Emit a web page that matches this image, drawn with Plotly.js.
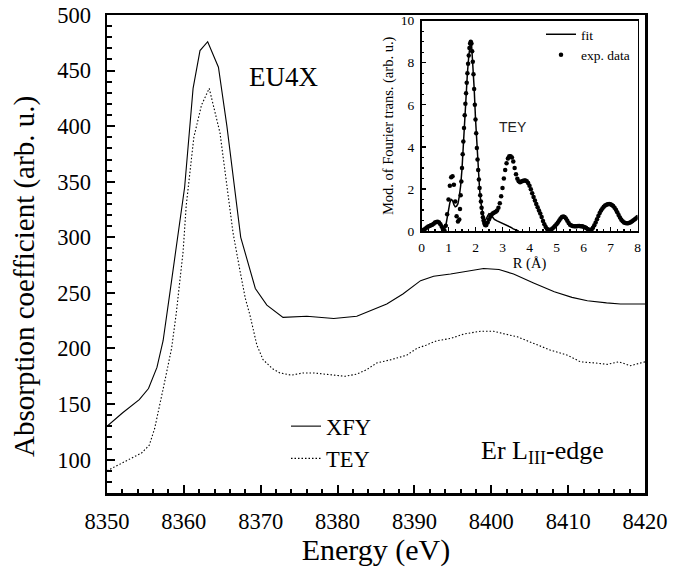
<!DOCTYPE html>
<html>
<head>
<meta charset="utf-8">
<script src="https://cdn.plot.ly/plotly-3.0.1.min.js"></script>
<style>html,body{margin:0;padding:0;background:#fff;}#chart{width:686px;height:567px;}</style>
</head>
<body>
<div id="chart"></div>
<script>
// ---- Main panel: Er L_III-edge XANES ----
const xfyEnergy = [8350, 8352, 8354.2, 8355.4, 8356.5, 8357.3, 8358.2, 8359, 8360.1, 8361.2, 8362.1, 8363.1, 8364.5, 8365.6, 8366.5, 8367.4, 8369.3, 8370.8, 8372.9, 8376, 8379.5, 8382.5, 8386.4, 8388.5, 8390.8, 8392.5, 8394.7, 8397, 8399, 8401, 8402.9, 8405.5, 8408.2, 8410.5, 8412.5, 8415, 8416.8, 8420];
const xfyValue  = [130, 142, 154, 164, 183, 207, 251, 290, 345, 434, 468, 476, 453, 400, 350, 300, 254, 239, 228, 229, 227, 229, 240, 249, 261, 265, 267, 270, 272, 271, 267, 259, 251, 246, 243, 241, 240, 240];

const teyEnergy = [8350, 8352, 8354.5, 8355.5, 8356.2, 8357.5, 8358.4, 8359, 8359.9, 8360.3, 8361.3, 8362.3, 8363.3, 8364.7, 8366.4, 8367.3, 8368, 8368.6, 8369.5, 8370.3, 8371.5, 8372.5, 8374, 8375.5, 8377, 8378.2, 8379.5, 8381, 8382.5, 8383.8, 8385.1, 8387, 8389, 8390.3, 8391.5, 8392.9, 8394.7, 8396.4, 8398.6, 8400.3, 8401.8, 8403.4, 8405, 8406, 8407.7, 8409.9, 8411.6, 8413.5, 8415.1, 8416.6, 8418.1, 8420];
const teyValue  = [90, 97, 106, 113, 128, 170, 200, 231, 287, 328, 390, 419, 434, 394, 304, 270, 245, 230, 203, 190, 182, 178, 176, 178, 178, 177, 176, 175, 177, 181, 187, 190, 194, 200, 203, 207, 209, 213, 215.5, 215.5, 213, 210.5, 206, 203, 198.5, 194, 188, 187, 185.7, 188, 184.5, 188];

// ---- Inset: modulus of Fourier transform (TEY) ----
const expR = [0.00,0.05,0.10,0.15,0.20,0.25,0.30,0.35,0.40,0.45,0.50,0.55,0.60,0.65,0.70,0.75,0.80,0.85,0.90,0.95,1.00,1.05,1.10,1.15,1.20,1.25,1.30,1.35,
  1.400,1.425,1.450,1.475,1.500,1.525,1.550,1.575,1.600,1.625,1.650,1.675,1.700,1.725,1.750,1.775,1.800,1.825,1.850,1.875,1.900,1.925,1.950,1.975,
  2.000,2.025,2.050,2.075,2.100,2.125,2.150,2.175,2.200,2.225,2.250,2.275,2.300,2.325,2.350,2.375,2.400,
  2.45,2.50,2.55,2.60,2.65,2.70,2.75,2.80,2.85,2.90,2.95,3.00,3.05,3.10,3.15,3.20,3.25,3.30,3.35,3.40,3.45,3.50,3.55,3.60,3.65,3.70,3.75,3.80,3.85,3.90,3.95,
  4.00,4.05,4.10,4.15,4.20,4.25,4.30,4.35,4.40,4.45,4.50,4.55,4.60,4.65,4.70,4.75,4.80,4.85,4.90,4.95,
  5.00,5.05,5.10,5.15,5.20,5.25,5.30,5.35,5.40,5.45,5.50,5.55,5.60,5.65,5.70,5.75,5.80,5.85,5.90,5.95,
  6.00,6.05,6.10,6.15,6.20,6.25,6.30,6.35,6.40,6.45,6.50,6.55,6.60,6.65,6.70,6.75,6.80,6.85,6.90,6.95,
  7.00,7.05,7.10,7.15,7.20,7.25,7.30,7.35,7.40,7.45,7.50,7.55,7.60,7.65,7.70,7.75,7.80,7.85,7.90,7.95,8.00];
const expFT = [0.00,0.03,0.07,0.12,0.17,0.21,0.24,0.27,0.30,0.35,0.40,0.43,0.44,0.40,0.32,0.20,0.08,0.02,0.25,0.80,1.50,2.15,2.55,2.60,2.20,1.40,0.70,0.45,
  0.55,1.05,1.70,2.35,3.00,3.65,4.25,4.90,5.50,6.05,6.55,7.05,7.50,7.95,8.35,8.70,8.92,9.00,8.92,8.55,8.05,7.45,6.75,6.00,
  5.30,4.65,3.95,3.40,2.90,2.45,2.05,1.70,1.40,1.10,0.85,0.65,0.50,0.38,0.30,0.27,0.29,
  0.40,0.55,0.68,0.78,0.84,0.88,0.92,0.98,1.10,1.32,1.65,2.05,2.50,2.90,3.22,3.45,3.56,3.55,3.50,3.30,3.00,2.70,2.48,2.36,2.32,2.35,2.38,2.40,2.40,2.36,2.28,
  2.15,1.98,1.80,1.62,1.45,1.28,1.13,0.98,0.83,0.66,0.48,0.32,0.19,0.10,0.06,0.05,0.07,0.12,0.18,0.25,
  0.32,0.40,0.50,0.59,0.66,0.69,0.67,0.60,0.49,0.38,0.30,0.26,0.24,0.23,0.23,0.23,0.24,0.24,0.23,0.22,
  0.20,0.18,0.14,0.10,0.06,0.05,0.07,0.15,0.27,0.41,0.56,0.71,0.85,0.97,1.07,1.15,1.21,1.25,1.27,1.28,
  1.27,1.24,1.19,1.11,1.01,0.89,0.76,0.64,0.54,0.46,0.41,0.38,0.37,0.37,0.39,0.42,0.46,0.51,0.56,0.61,0.66];

const fitR  = [0.00,0.10,0.20,0.30,0.40,0.50,0.55,0.60,0.65,0.70,0.75,0.80,0.85,0.90,0.95,1.00,1.05,1.10,1.15,1.20,1.25,1.30,1.35,1.40,1.45,1.50,1.55,1.60,1.65,1.70,1.75,1.80,1.85,1.90,1.95,2.00,2.05,2.10,2.15,2.20,2.25,2.30,2.35,2.40,2.45,2.50,2.55,2.60,2.65,2.70,2.80,2.90,3.00,3.10,3.20,3.30,3.40,3.50,3.60];
const fitFT = [0.00,0.10,0.20,0.27,0.35,0.45,0.48,0.48,0.45,0.38,0.28,0.15,0.08,0.25,0.60,1.00,1.35,1.50,1.45,1.25,1.15,1.18,1.30,1.65,2.15,2.95,4.15,5.45,6.55,7.50,8.30,8.85,8.95,8.10,6.80,5.35,4.00,2.85,2.00,1.35,0.90,0.62,0.52,0.58,0.72,0.82,0.80,0.72,0.62,0.55,0.48,0.42,0.38,0.32,0.25,0.18,0.10,0.04,0.00];

const SERIF = 'Liberation Serif';
const SANS = 'Liberation Sans';

const traces = [
  {x: xfyEnergy, y: xfyValue, type: 'scatter', mode: 'lines', name: 'XFY',
   line: {color: '#000', width: 1.1}, xaxis: 'x', yaxis: 'y', legend: 'legend'},
  {x: teyEnergy, y: teyValue, type: 'scatter', mode: 'lines', name: 'TEY',
   line: {color: '#000', width: 1.1, dash: '1.5px,2px'}, xaxis: 'x', yaxis: 'y', legend: 'legend'},
  {x: fitR, y: fitFT, type: 'scatter', mode: 'lines', name: 'fit',
   line: {color: '#000', width: 1.5}, xaxis: 'x2', yaxis: 'y2', legend: 'legend2'},
  {x: expR, y: expFT, type: 'scatter', mode: 'markers', name: 'exp. data',
   marker: {color: '#000', size: 4.5}, xaxis: 'x2', yaxis: 'y2', legend: 'legend2'}
];

const L = 107, R = 41, T = 15, B = 74;
const W = 686, H = 567;
const pw = W - L - R, ph = H - T - B;
const px = v => (v - L) / pw;
const py = v => (H - B - v) / ph;

const layout = {
  width: W, height: H,
  margin: {l: L, r: R, t: T, b: B, pad: 0},
  paper_bgcolor: '#fff', plot_bgcolor: 'rgba(0,0,0,0)',
  font: {family: SERIF, color: '#000', size: 22},
  showlegend: true,
  xaxis: {
    domain: [0, 1], range: [8350, 8420], dtick: 10, tick0: 8350,
    showline: true, mirror: true, linewidth: 2.5, linecolor: '#000',
    ticks: 'inside', ticklen: 8, tickwidth: 2, tickcolor: '#000',
    minor: {dtick: 2, ticks: 'inside', ticklen: 4.5, tickwidth: 2, tickcolor: '#000'},
    showgrid: false, zeroline: false,
    tickfont: {family: SERIF, size: 22.5, color: '#000'},
    ticklabelstandoff: 6,
    title: {text: 'Energy (eV)', font: {family: SERIF, size: 30, color: '#000'}, standoff: 8}
  },
  yaxis: {
    domain: [0, 1], range: [70, 500], dtick: 50, tick0: 0,
    showline: true, mirror: true, linewidth: 2.5, linecolor: '#000',
    ticks: 'inside', ticklen: 8, tickwidth: 2, tickcolor: '#000',
    minor: {dtick: 10, ticks: 'inside', ticklen: 4.5, tickwidth: 2, tickcolor: '#000'},
    showgrid: false, zeroline: false,
    tickfont: {family: SERIF, size: 22.5, color: '#000'},
    ticklabelstandoff: 9
  },
  xaxis2: {
    anchor: 'y2', domain: [px(421.5), px(637.5)], range: [0, 8], dtick: 1, tick0: 0,
    showline: true, mirror: true, linewidth: 1.5, linecolor: '#000',
    ticks: 'inside', ticklen: 4, tickwidth: 1.3, tickcolor: '#000',
    minor: {dtick: 0.25, ticks: 'inside', ticklen: 2.5, tickwidth: 1.2, tickcolor: '#000'},
    showgrid: false, zeroline: false,
    tickfont: {family: SERIF, size: 13.5, color: '#000'},
    ticklabelstandoff: 3,
    title: {text: 'R (Å)', font: {family: SERIF, size: 14.5, color: '#000'}, standoff: 1}
  },
  yaxis2: {
    anchor: 'x2', domain: [py(231), py(20.7)], range: [0, 10], dtick: 2, tick0: 0,
    showline: true, mirror: true, linewidth: 1.5, linecolor: '#000',
    ticks: 'inside', ticklen: 4, tickwidth: 1.3, tickcolor: '#000',
    minor: {dtick: 0.5, ticks: 'inside', ticklen: 2.5, tickwidth: 1.2, tickcolor: '#000'},
    showgrid: false, zeroline: false,
    tickfont: {family: SERIF, size: 13.5, color: '#000'},
    ticklabelstandoff: 3,
    title: {text: 'Mod. of Fourier trans. (arb. u.)', font: {family: SERIF, size: 14.5, color: '#000'}, standoff: 3}
  },
  legend: {
    x: px(286), y: py(405), xanchor: 'left', yanchor: 'top',
    bgcolor: 'rgba(0,0,0,0)', borderwidth: 0,
    font: {family: SERIF, size: 22.5, color: '#000'}, tracegroupgap: 0
  },
  legend2: {
    x: px(541), y: py(19), xanchor: 'left', yanchor: 'top',
    bgcolor: 'rgba(0,0,0,0)', borderwidth: 0,
    font: {family: SERIF, size: 13.5, color: '#000'}, tracegroupgap: 0
  },
  annotations: [
    {text: 'Absorption coefficient (arb. u.)', xref: 'paper', yref: 'paper',
     x: px(25), y: py(277), xanchor: 'center', yanchor: 'middle', textangle: -90,
     showarrow: false, font: {family: SERIF, size: 29, color: '#000'}},
    {text: 'EU4X', xref: 'paper', yref: 'paper', x: px(283), y: py(77),
     xanchor: 'center', yanchor: 'middle', showarrow: false,
     font: {family: SERIF, size: 27, color: '#000'}},
    {text: 'Er L<sub>III</sub>-edge', xref: 'paper', yref: 'paper', x: px(479), y: py(452),
     xanchor: 'left', yanchor: 'middle', showarrow: false,
     font: {family: SERIF, size: 26, color: '#000'}},
    {text: 'TEY', xref: 'x2', yref: 'y2', x: 3.39, y: 4.95,
     xanchor: 'center', yanchor: 'middle', showarrow: false,
     font: {family: SANS, size: 14, color: '#222'}}
  ]
};

Plotly.newPlot('chart', traces, layout, {displayModeBar: false, staticPlot: true});
</script>
</body>
</html>
